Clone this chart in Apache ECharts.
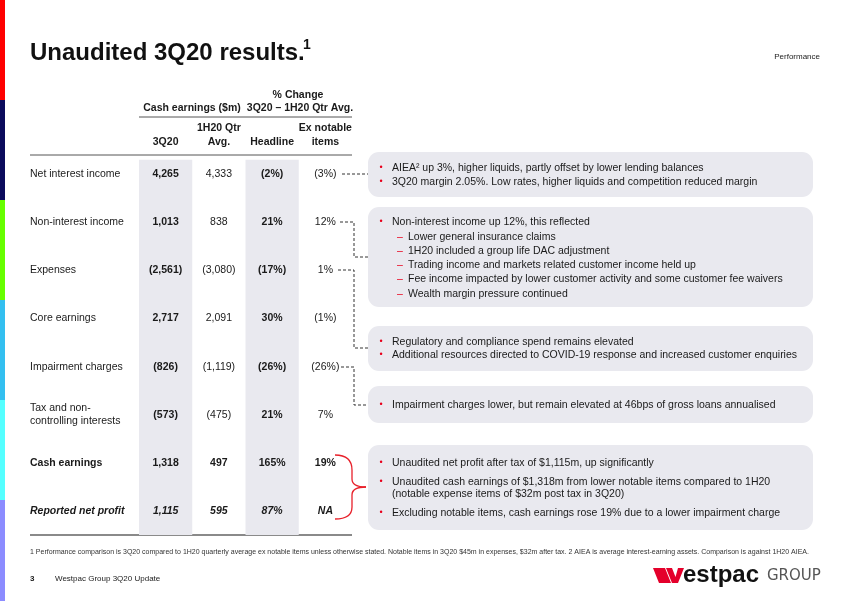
<!DOCTYPE html>
<html><head><meta charset="utf-8">
<script src="https://cdn.jsdelivr.net/npm/echarts@6/dist/echarts.min.js"></script>
<style>html,body{margin:0;padding:0;background:#fff}#c{width:850px;height:601px}</style>
</head><body><div id="c"></div>
<script>
// ---------- data ----------
const rowLabels = ['Net interest income','Non-interest income','Expenses','Core earnings','Impairment charges','Tax and non-\ncontrolling interests','Cash earnings','Reported net profit'];
const cash3Q20 = [4265, 1013, -2561, 2717, -826, -573, 1318, 1115];
const cash1H20QtrAvg = [4333, 838, -3080, 2091, -1119, -475, 497, 595];
const chgHeadline = [-2, 21, -17, 30, -26, 21, 165, 87];
const chgExNotable = [-3, 12, 1, -1, -26, 7, 19, null];
const colHeaders = ['3Q20', '1H20 Qtr\nAvg.', 'Headline', 'Ex notable\nitems'];
const groupHeaders = ['Cash earnings ($m)', '3Q20 \u2013 1H20 Qtr Avg.'];
const rowEmphasis = ['n','n','n','n','n','n','b','bi'];
const shadedCols = [0, 2];
const box1 = ['AIEA\u00b2 up 3%, higher liquids, partly offset by lower lending balances','3Q20 margin 2.05%. Low rates, higher liquids and competition reduced margin'];
const box2Head = 'Non-interest income up 12%, this reflected';
const box2Subs = ['Lower general insurance claims','1H20 included a group life DAC adjustment','Trading income and markets related customer income held up','Fee income impacted by lower customer activity and some customer fee waivers','Wealth margin pressure continued'];
const box3 = ['Regulatory and compliance spend remains elevated','Additional resources directed to COVID-19 response and increased customer enquiries'];
const box4 = ['Impairment charges lower, but remain elevated at 46bps of gross loans annualised'];
const box5 = ['Unaudited net profit after tax of $1,115m, up significantly','Unaudited cash earnings of $1,318m from lower notable items compared to 1H20\n(notable expense items of $32m post tax in 3Q20)','Excluding notable items, cash earnings rose 19% due to a lower impairment charge'];
const footnote = '1 Performance comparison is 3Q20 compared to 1H20 quarterly average ex notable items unless otherwise stated. Notable items in 3Q20 $45m in expenses, $32m after tax. 2 AIEA is average interest-earning assets. Comparison is against 1H20 AIEA.';

// ---------- helpers ----------
const FF = '"Liberation Sans", Arial, Helvetica, sans-serif';
const TXT = '#1a1a1a';
const fmtNum = v => v < 0 ? '(' + Math.abs(v).toLocaleString('en-US') + ')' : v.toLocaleString('en-US');
const fmtPct = v => v === null ? 'NA' : (v < 0 ? '(' + Math.abs(v) + '%)' : v + '%');
const font = (size, bold, italic) => (italic ? 'italic ' : '') + (bold ? 'bold ' : '') + size + 'px ' + FF;

const cells = [];
for (let r = 0; r < rowLabels.length; r++) {
  const em = rowEmphasis[r];
  const cols = [fmtNum(cash3Q20[r]), fmtNum(cash1H20QtrAvg[r]), fmtPct(chgHeadline[r]), fmtPct(chgExNotable[r])];
  cols.forEach((t, c) => {
    cells.push({ c, r, text: t, bold: em !== 'n' || c === 0 || c === 2, italic: em === 'bi' });
  });
}

// ---------- graphic decorations ----------
const g = [];
const strip = ['#ff0000', '#0b0b5c', '#66ff00', '#33bff0', '#55ffff', '#8c8cff'];
strip.forEach((col, i) => g.push({ type: 'rect', shape: { x: 0, y: i * 100, width: 5, height: i === 5 ? 101 : 100 }, style: { fill: col }, silent: true }));
const T = (x, y, text, size, opts = {}) => g.push({ type: 'text', x, y, silent: true, style: Object.assign({ text, font: font(size, opts.bold, opts.italic), fill: opts.fill || TXT, align: opts.align || 'left', verticalAlign: 'middle', lineHeight: opts.lineHeight }, opts.extra || {}) });

T(30, 53, 'Unaudited 3Q20 results.', 24, { bold: true, fill: '#111' });
T(303, 45, '1', 14, { bold: true, fill: '#111' });
T(820, 57, 'Performance', 8, { align: 'right', fill: '#222' });

// table header group
T(298, 95, '% Change', 10.5, { bold: true, align: 'center' });
T(192, 108, groupHeaders[0], 10.5, { bold: true, align: 'center' });
T(300, 108, groupHeaders[1], 10.5, { bold: true, align: 'center' });
g.push({ type: 'line', shape: { x1: 139, y1: 117, x2: 352, y2: 117 }, style: { stroke: '#555', lineWidth: 1 }, silent: true });
g.push({ type: 'line', shape: { x1: 30, y1: 155, x2: 352, y2: 155 }, style: { stroke: '#555', lineWidth: 1 }, silent: true });
g.push({ type: 'line', shape: { x1: 30, y1: 535, x2: 352, y2: 535 }, style: { stroke: '#8a8a8a', lineWidth: 2 }, silent: true });

// commentary boxes
const BOXFILL = '#e9e9ef';
const box = (y, h) => g.push({ type: 'rect', shape: { x: 368, y, width: 445, height: h, r: 11 }, style: { fill: BOXFILL }, silent: true, z: 0 });
box(152, 45); box(207, 100); box(326, 45); box(386, 37); box(445, 85);
const bullet = (y, text) => { T(381, y, '\u2022', 9, { fill: '#e8001c', align: 'center' }); T(392, y, text, 10.5); };
const dash = (y, text) => { T(397, y, '\u2013', 10.5, { fill: '#e8001c' }); T(408, y, text, 10.5); };
bullet(168, box1[0]); bullet(182, box1[1]);
bullet(222, box2Head);
box2Subs.forEach((t, i) => dash(237 + i * 14.2, t));
bullet(342, box3[0]); bullet(355, box3[1]);
bullet(405, box4[0]);
bullet(463, box5[0]);
T(381, 482, '\u2022', 9, { fill: '#e8001c', align: 'center' });
T(392, 488, box5[1], 10.5, { lineHeight: 12.5 });
bullet(513, box5[2]);

// dashed connectors
const DL = { stroke: '#333', lineWidth: 1, lineDash: [3, 2] };
const pl = pts => g.push({ type: 'polyline', shape: { points: pts }, style: Object.assign({ fill: null }, DL), silent: true });
pl([[342, 174], [368, 174]]);
pl([[340, 222], [354, 222], [354, 257], [368, 257]]);
pl([[338, 270], [354, 270], [354, 348], [368, 348]]);
pl([[341, 367], [354, 367], [354, 405], [368, 405]]);

// red brace
const BR = { stroke: '#e8202a', lineWidth: 1.3, fill: null };
const bz = (x1, y1, c1x, c1y, c2x, c2y, x2, y2) => g.push({ type: 'bezierCurve', shape: { x1, y1, cpx1: c1x, cpy1: c1y, cpx2: c2x, cpy2: c2y, x2, y2 }, style: BR, silent: true });
bz(335, 455, 347, 455, 352, 461, 352, 470);
g.push({ type: 'line', shape: { x1: 352, y1: 470, x2: 352, y2: 479 }, style: BR, silent: true });
bz(352, 479, 352, 484, 357, 487, 366, 487);
bz(366, 487, 357, 487, 352, 490, 352, 495);
g.push({ type: 'line', shape: { x1: 352, y1: 495, x2: 352, y2: 507 }, style: BR, silent: true });
bz(352, 507, 352, 514, 347, 519, 335, 519);

// footnote & footer
T(30, 552, footnote, 7, { fill: '#333' });
T(30, 579, '3', 8, { bold: true });
T(55, 579, 'Westpac Group 3Q20 Update', 8, { fill: '#222' });

// logo
const RED = '#e4002b';
g.push({ type: 'polygon', shape: { points: [[653, 568], [665, 568], [671, 583], [659, 583]] }, style: { fill: RED }, silent: true });
g.push({ type: 'polygon', shape: { points: [[666, 568], [672, 568], [675.5, 577], [678, 568], [684, 568], [678, 583], [672, 583]] }, style: { fill: RED }, silent: true });
g.push({ type: 'text', x: 683, y: 575, silent: true, style: { text: 'estpac', font: 'bold 24px ' + FF, fill: '#111', verticalAlign: 'middle' } });
g.push({ type: 'text', x: 767, y: 576, silent: true, style: { text: 'GROUP', font: '15px "DejaVu Sans", sans-serif', fill: '#555', verticalAlign: 'middle' } });

// ---------- chart ----------
const chart = echarts.init(document.getElementById('c'), null, { renderer: 'canvas' });
chart.setOption({
  animation: false,
  backgroundColor: '#ffffff',
  grid: { left: 139, right: 498, top: 155, bottom: 66 },
  xAxis: {
    type: 'category', data: colHeaders, position: 'top',
    axisLine: { show: false }, axisTick: { show: false }, splitLine: { show: false },
    axisLabel: { interval: 0, margin: 6, fontFamily: FF, fontWeight: 'bold', fontSize: 10.5, lineHeight: 14, color: TXT, align: 'center' }
  },
  yAxis: { type: 'value', min: -0.4, max: 7.5, inverse: true, show: false },
  graphic: { elements: g },
  series: [
    {
      type: 'custom', silent: true, clip: false, z: 1,
      data: shadedCols.map(c => [c, 0]),
      renderItem: (params, api) => {
        const c = shadedCols[params.dataIndex];
        const top = api.coord([c, -0.3]);
        const bot = api.coord([c, 7.5]);
        const w = api.size([1, 0])[0];
        return { type: 'rect', shape: { x: top[0] - w / 2, y: top[1], width: w, height: bot[1] - top[1] }, style: { fill: BOXFILL } };
      }
    },
    {
      type: 'custom', silent: true, clip: false, z: 3,
      data: cells.map(d => [d.c, d.r]),
      renderItem: (params, api) => {
        const d = cells[params.dataIndex];
        const p = api.coord([d.c, d.r]);
        return { type: 'text', x: p[0], y: p[1], style: { text: d.text, font: font(10.5, d.bold, d.italic), fill: TXT, align: 'center', verticalAlign: 'middle' } };
      }
    },
    {
      type: 'custom', silent: true, clip: false, z: 3,
      data: rowLabels.map((l, r) => [0, r]),
      renderItem: (params, api) => {
        const r = params.dataIndex;
        const p = api.coord([0, r]);
        const em = rowEmphasis[r];
        return { type: 'text', x: params.coordSys.x - 109, y: p[1], style: { text: rowLabels[r], font: font(10.5, em !== 'n', em === 'bi'), fill: TXT, align: 'left', verticalAlign: 'middle', lineHeight: 13 } };
      }
    }
  ]
});
</script>
</body></html>
